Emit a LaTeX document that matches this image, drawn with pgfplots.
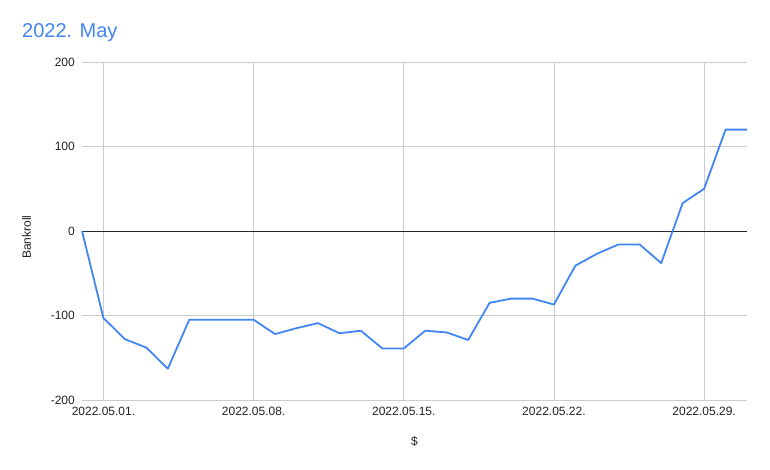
\documentclass[border=0pt]{standalone}
\usepackage{fontspec}
\setmainfont{Liberation Sans}
\usepackage{pgfplots}
\pgfplotsset{compat=1.18}
\definecolor{gblue}{HTML}{4285F4}
\definecolor{ggrid}{HTML}{CCCCCC}
\definecolor{gtext}{HTML}{222222}
\begin{document}
\begin{tikzpicture}[x=1pt,y=1pt]
\path[use as bounding box] (0,0) rectangle (770,-469);
\begin{axis}[
  at={(82pt,-400pt)}, anchor=south west,
  scale only axis, width=665pt, height=338pt,
  xmin=0, xmax=31, ymin=-200, ymax=200,
  xtick={1,8,15,22,29},
  xticklabels={2022.05.01.,2022.05.08.,2022.05.15.,2022.05.22.,2022.05.29.},
  ytick={-200,-100,100,200},
  yticklabels={-200,-100,100,200},
  extra y ticks={0}, extra y tick labels={0},
  extra y tick style={grid style={draw=black!85, line width=0.9pt}},
  xmajorgrids, ymajorgrids,
  grid style={draw=ggrid, line width=0.8pt},
  axis line style={draw=none},
  major tick length=0pt,
  xticklabel style={font=\fontsize{12}{14}\selectfont, text=gtext, inner sep=0pt, anchor=north, yshift=-7pt},
  yticklabel style={font=\fontsize{12}{14}\selectfont, text=gtext, inner sep=0pt, anchor=east, xshift=-7pt},
  clip=false,
]
\addplot[color=gblue, line width=1.8pt, line join=round] coordinates {
(0,0) (1,-103) (2,-128) (3,-138) (4,-163) (5,-105) (6,-105) (7,-105) (8,-105)
(9,-122) (10,-115) (11,-109) (12,-121) (13,-118) (14,-139) (15,-139) (16,-118)
(17,-120) (18,-129) (19,-85) (20,-80) (21,-80) (22,-87) (23,-41) (24,-27)
(25,-16) (26,-16) (27,-38) (28,33) (29,50) (30,120) (31,120)
};
\end{axis}
\node[anchor=base west, inner sep=0pt, text=gblue, font=\fontsize{20}{24}\selectfont] at (22,-37.3) {2022. May};
\node[rotate=90, inner sep=0pt, text=gtext, font=\fontsize{12}{14}\selectfont] at (26.7,-237) {Bankroll};
\node[inner sep=0pt, text=gtext, font=\fontsize{12}{14}\selectfont] at (414.5,-441.5) {\$};
\end{tikzpicture}
\end{document}
